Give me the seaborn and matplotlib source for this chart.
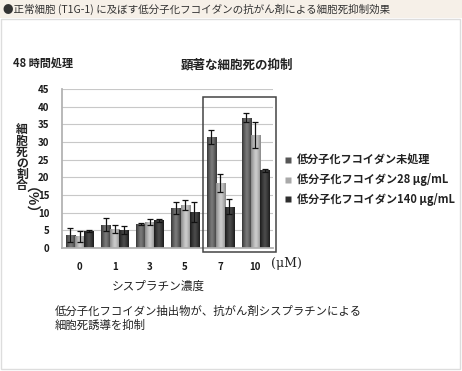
import matplotlib
matplotlib.use("Agg")
import matplotlib.pyplot as plt
import matplotlib.patches as mpatches
from matplotlib.lines import Line2D
from matplotlib.colors import LinearSegmentedColormap
import seaborn as sns
import pandas as pd
import numpy as np

# ---- data ----
categories = ["0", "1", "3", "5", "7", "10"]
series = ["低分子化フコイダン未処理", "低分子化フコイダン28 μg/mL", "低分子化フコイダン140 μg/mL"]
vals_untreated = [3.6, 6.6, 6.9, 11.2, 31.3, 36.9]
vals_28 = [3.3, 5.4, 7.4, 12.2, 18.4, 32.0]
vals_140 = [4.9, 5.1, 7.8, 10.3, 11.7, 22.0]
err_untreated = [2.0, 1.8, 0.3, 1.7, 2.0, 1.3]
err_28 = [1.5, 1.2, 0.9, 1.5, 2.5, 3.8]
err_140 = [0.3, 1.0, 0.5, 2.8, 2.1, 0.4]
yticks = [0, 5, 10, 15, 20, 25, 30, 35, 40, 45]

colors = ["#565656", "#a9a9a9", "#2e2e2e"]
shades = [("#383838", "#7a7a7a"), ("#8a8a8a", "#cdcdcd"), ("#1c1c1c", "#4a4a4a")]

vals = [vals_untreated, vals_28, vals_140]
errs = [err_untreated, err_28, err_140]
rows = []
for s, v in zip(series, vals):
    for c, x in zip(categories, v):
        rows.append({"conc": c, "series": s, "value": x})
df = pd.DataFrame(rows)

sns.set_theme(style="white")
plt.rcParams["font.family"] = ["Noto Sans CJK JP", "DejaVu Sans"]

W, H = 462, 371
fig = plt.figure(figsize=(W / 100, H / 100), dpi=100)
fig.patch.set_facecolor("white")

# title bar & panel
fig.patches.append(mpatches.Rectangle((0, 1 - 18 / H), 1, 18 / H, transform=fig.transFigure,
                                      facecolor="#f6f0e8", edgecolor="none", zorder=-10))
fig.patches.append(mpatches.Rectangle((1 / W, 2 / H), 459 / W, (H - 21) / H, transform=fig.transFigure,
                                      facecolor="white", edgecolor="#dddddd", lw=1.0, zorder=-9))
fig.text(3 / W, 1 - 9 / H, "●正常細胞 (T1G-1) に及ぼす低分子化フコイダンの抗がん剤による細胞死抑制効果",
         fontsize=7.6, color="#333333", va="center", ha="left")

ax = fig.add_axes([62 / W, 1 - 248 / H, (273 - 62) / W, (248 - 89) / H])
ax.set_zorder(1)
ax.patch.set_alpha(0)
sns.barplot(data=df, x="conc", y="value", hue="series", palette=colors, order=categories,
            hue_order=series, width=0.78, errorbar=None, ax=ax, legend=False,
            edgecolor="none", zorder=2)

# cylinder-like shading on each bar
grad = np.abs(np.linspace(-1, 1, 32)) ** 1.3
grad = (1 - grad)[None, :]
for cont, (dk, lt) in zip(ax.containers, shades):
    cmap = LinearSegmentedColormap.from_list("sh", [dk, lt])
    for p in cont.patches:
        x0, w, h = p.get_x(), p.get_width(), p.get_height()
        im = ax.imshow(grad, cmap=cmap, vmin=0, vmax=1, aspect="auto",
                       extent=(x0, x0 + w, 0, h), zorder=2.5, interpolation="bilinear")
        im.set_clip_path(p)

for cont, e in zip(ax.containers, errs):
    xs = [p.get_x() + p.get_width() / 2 for p in cont.patches]
    ys = [p.get_height() for p in cont.patches]
    ax.errorbar(xs, ys, yerr=e, fmt="none", ecolor="#111111", elinewidth=0.9,
                capsize=2.2, capthick=0.9, zorder=3)

ax.set_ylim(0, 45)
ax.set_xlim(-0.5, 5.5)
ax.set_yticks(yticks)
ax.set_yticklabels([str(t) for t in yticks], fontsize=7, fontweight="bold", color="#1a1a1a")
ax.set_xticks(range(len(categories)))
ax.set_xticklabels(categories, fontsize=7, fontweight="bold", color="#1a1a1a")
ax.set_xlabel("")
ax.set_ylabel("")
ax.yaxis.grid(True, color="#c8c8c8", lw=0.8, zorder=0)
ax.set_axisbelow(True)
for sp in ["top", "right"]:
    ax.spines[sp].set_visible(False)
ax.spines["left"].set_color("#b0b0b0")
ax.spines["bottom"].set_color("#b0b0b0")
ax.tick_params(axis="y", length=0, pad=9)
ax.tick_params(axis="x", which="major", length=0, pad=10)
ax.set_xticks(np.arange(-0.5, 6, 1), minor=True)
ax.tick_params(axis="x", which="minor", length=3, color="#b0b0b0", direction="out")

# highlight box
ax.add_patch(mpatches.Rectangle((3.51, -1.1), 2.08, 43.8, fill=False, edgecolor="#444444",
                                lw=1.1, clip_on=False, zorder=4))

# legend
handles = [Line2D([0], [0], marker="s", linestyle="none", markersize=5, markerfacecolor=c,
                  markeredgecolor="none") for c in colors]
leg = fig.legend(handles, series, loc="center left", bbox_to_anchor=(284 / W, 1 - 180 / H),
                 frameon=False, handlelength=0.8, handletextpad=0.35, labelspacing=0.6,
                 borderpad=0, borderaxespad=0, prop={"size": 8, "weight": "bold"})
for t in leg.get_texts():
    t.set_color("#222222")

# texts
fig.text(13 / W, 1 - 64 / H, "48 時間処理", fontsize=8, fontweight="bold", color="#222222",
         va="center", ha="left")
fig.text(237 / W, 1 - 65 / H, "顕著な細胞死の抑制", fontsize=9, fontweight="bold", color="#222222",
         va="center", ha="center")
fig.text(22 / W, 1 - 124 / H, "細\n胞\n死\nの\n割\n合", fontsize=8.5, fontweight="bold",
         color="#222222", va="top", ha="center", linespacing=0.8)
fig.text(22 / W, 1 - 208 / H, "（%）", fontsize=10, fontweight="bold", color="#222222",
         va="center", ha="center", rotation=-90)
fig.text(271 / W, 1 - 264 / H, "(μM)", fontsize=9, color="#222222", va="center", ha="left",
         family=["DejaVu Serif"])
fig.text(158 / W, 1 - 286 / H, "シスプラチン濃度", fontsize=8.4, color="#222222",
         va="center", ha="center")
fig.text(55 / W, 1 - 311 / H, "低分子化フコイダン抽出物が、抗がん剤シスプラチンによる", fontsize=8.2,
         color="#222222", va="center", ha="left")
fig.text(55 / W, 1 - 325 / H, "細胞死誘導を抑制", fontsize=8.2, color="#222222",
         va="center", ha="left")

fig.savefig("out.png", dpi=100)
